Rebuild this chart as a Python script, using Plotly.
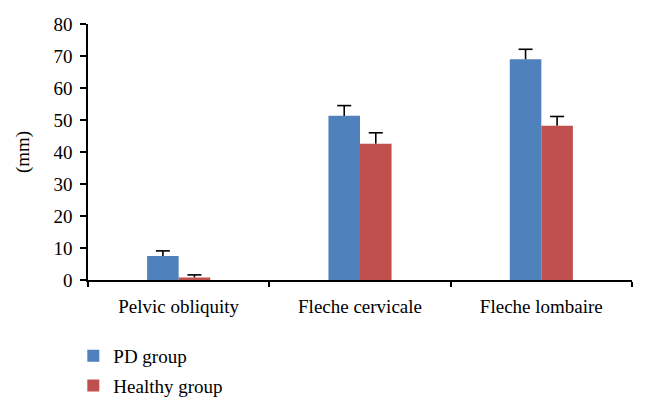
import plotly.graph_objects as go

categories = ["Pelvic obliquity", "Fleche cervicale", "Fleche lombaire"]
pd_values = [7.5, 51.3, 69.0]
pd_errors = [1.6, 3.2, 3.1]
healthy_values = [0.8, 42.6, 48.2]
healthy_errors = [0.8, 3.4, 2.9]
y_ticks = [0, 10, 20, 30, 40, 50, 60, 70, 80]

FONT = "Liberation Serif"
FS = 19
BAR_W = 0.174

idx = list(range(len(categories)))

fig = go.Figure()
series = [
    ("PD group", pd_values, pd_errors, "#4F81BD", -BAR_W),
    ("Healthy group", healthy_values, healthy_errors, "#C0504D", 0.0),
]
for g, (name, vals, errs, color, off) in enumerate(series):
    fig.add_trace(go.Bar(
        x=idx, y=vals, name=name, width=BAR_W, offset=off,
        marker=dict(color=color, line=dict(width=0)),
        error_y=dict(type="data", array=errs, arrayminus=[0] * len(errs), symmetric=False,
                     color="black", thickness=1.6, width=0),
        legendgroup=str(g),
    ))
    # caps on the top of the error bars
    fig.add_trace(go.Scatter(
        x=[i + off + BAR_W / 2 for i in idx],
        y=[v + e for v, e in zip(vals, errs)],
        mode="markers",
        marker=dict(symbol="line-ew-open", size=10, color="black",
                    line=dict(color="black", width=1.6)),
        showlegend=False, hoverinfo="skip",
    ))

fig.update_layout(
    width=638, height=402,
    margin=dict(l=80, r=14, t=16, b=130, autoexpand=False),
    paper_bgcolor="white", plot_bgcolor="white",
    barmode="overlay",
    font=dict(family=FONT, size=FS, color="black"),
    showlegend=True,
    legend=dict(
        orientation="v", x=-0.027, xanchor="left", y=-0.222, yanchor="top",
        font=dict(family=FONT, size=FS, color="black"),
        tracegroupgap=2, itemwidth=30,
    ),
    xaxis=dict(
        range=[-0.5, len(categories) - 0.5], automargin=False,
        tickvals=idx, ticktext=categories, ticklabelstandoff=8,
        showline=True, linecolor="black", linewidth=1.5,
        ticks="", showgrid=False, zeroline=False, tickfont=dict(size=FS),
        minor=dict(tickvals=[i - 0.5 for i in range(len(categories) + 1)],
                   ticks="outside", ticklen=5, tickcolor="black", tickwidth=1.5,
                   showgrid=False),
    ),
    yaxis=dict(
        range=[0, 80], tickvals=y_ticks, ticktext=[str(v) for v in y_ticks],
        automargin=False, ticklabelstandoff=4,
        showline=True, linecolor="black", linewidth=1.5,
        ticks="outside", ticklen=6, tickcolor="black", tickwidth=1.5,
        showgrid=False, zeroline=False, tickfont=dict(size=FS),
        title=dict(text="(mm)", font=dict(size=FS), standoff=19),
    ),
)

fig.write_html("out.html")
